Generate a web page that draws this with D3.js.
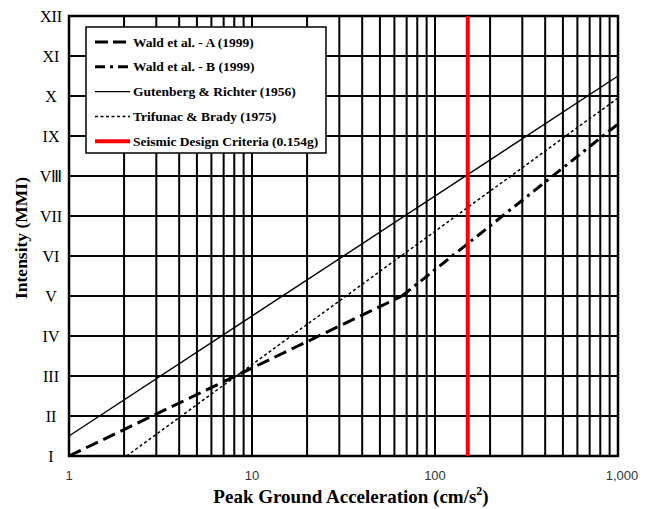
<!DOCTYPE html>
<html lang="en">
<head>
<meta charset="UTF-8">
<title>Intensity vs PGA</title>
<script src="https://cdn.jsdelivr.net/npm/d3@7"></script>
<style>
  body { margin: 0; background: #fff; }
  svg { display: block; }
</style>
</head>
<body>
<script>
// Data
const mmiLabels = ["I", "II", "III", "IV", "V", "VI", "VII", "V\u2162", "IX", "X", "XI", "XII"];
const xTicks = [1, 10, 100, 1000];

const waldAPga = [1, 66];
const waldAMmi = [1.0, 5.0];
const waldBPga = [66, 1000];
const waldBMmi = [5.0, 9.3];
const gutenbergPga = [1, 1000];
const gutenbergMmi = [1.5, 10.5];
const trifunacPga = [2.06, 1000];
const trifunacMmi = [1.0, 9.95];
const designPga = 151;

const legendNames = [
  "Wald et al. - A (1999)",
  "Wald et al. - B (1999)",
  "Gutenberg & Richter (1956)",
  "Trifunac & Brady (1975)",
  "Seismic Design Criteria (0.154g)"
];

// Canvas
const w = 652, h = 509;
const plotL = 69, plotR = 618, plotT = 16, plotB = 456;
const serif = "'Liberation Serif', 'Times New Roman', serif";

const svg = d3.select("body").append("svg")
  .attr("width", w)
  .attr("height", h);

const xScale = d3.scaleLog().domain([1, 1000]).range([plotL, plotR]);
const yScale = d3.scaleLinear().domain([1, 12]).range([plotB, plotT]);

// Grid: vertical lines at 1..9 of each decade
const minor = [];
for (let e = 0; e < 3; e++) {
  for (let m = 1; m <= 9; m++) minor.push(m * Math.pow(10, e));
}
minor.push(1000);

svg.append("g").selectAll("line")
  .data(minor)
  .enter().append("line")
  .attr("x1", d => xScale(d)).attr("x2", d => xScale(d))
  .attr("y1", plotT).attr("y2", plotB)
  .attr("stroke", "#000").attr("stroke-width", 2);

svg.append("g").selectAll("line")
  .data(d3.range(1, 13))
  .enter().append("line")
  .attr("x1", plotL).attr("x2", plotR)
  .attr("y1", d => yScale(d)).attr("y2", d => yScale(d))
  .attr("stroke", "#000").attr("stroke-width", 2);

// Frame
svg.append("rect")
  .attr("x", plotL).attr("y", plotT)
  .attr("width", plotR - plotL).attr("height", plotB - plotT)
  .attr("fill", "none").attr("stroke", "#000").attr("stroke-width", 2.5);

// Series
const line = d3.line().x(d => xScale(d[0])).y(d => yScale(d[1]));
const zip = (a, b) => a.map((v, i) => [v, b[i]]);

const series = [
  { pts: zip(waldAPga, waldAMmi), width: 3, dash: "13,6" },
  { pts: zip(waldBPga, waldBMmi), width: 3, dash: "11,5,3,5" },
  { pts: zip(gutenbergPga, gutenbergMmi), width: 1.4, dash: null },
  { pts: zip(trifunacPga, trifunacMmi), width: 1.5, dash: "3,2.5" }
];

series.forEach(s => {
  svg.append("path")
    .attr("d", line(s.pts))
    .attr("fill", "none")
    .attr("stroke", "#000")
    .attr("stroke-width", s.width)
    .attr("stroke-dasharray", s.dash);
});

// Design criteria line
svg.append("line")
  .attr("x1", xScale(designPga)).attr("x2", xScale(designPga))
  .attr("y1", plotT).attr("y2", plotB)
  .attr("stroke", "#ff0000").attr("stroke-width", 4);

// Y tick labels
svg.append("g").selectAll("text")
  .data(mmiLabels)
  .enter().append("text")
  .attr("x", 51)
  .attr("y", (d, i) => yScale(i + 1) + 5.5)
  .attr("text-anchor", "middle")
  .attr("font-family", serif)
  .attr("font-size", 16)
  .text(d => d);

// X tick labels
svg.append("g").selectAll("text")
  .data(xTicks)
  .enter().append("text")
  .attr("x", d => xScale(d) + (d === 1000 ? 4 : 0))
  .attr("y", 480)
  .attr("text-anchor", "middle")
  .attr("font-family", "'Liberation Sans', Arial, sans-serif")
  .attr("font-size", 13)
  .attr("fill", "#333")
  .text(d => d3.format(",")(d));

// Axis titles
const xTitle = svg.append("text")
  .attr("x", 351).attr("y", 503)
  .attr("text-anchor", "middle")
  .attr("font-family", serif)
  .attr("font-size", 19).attr("font-weight", "bold");
xTitle.append("tspan").text("Peak Ground Acceleration (cm/s");
xTitle.append("tspan").attr("dy", -8).attr("font-size", 12).text("2");
xTitle.append("tspan").attr("dy", 8).text(")");

svg.append("text")
  .attr("transform", "translate(27, 238) rotate(-90)")
  .attr("text-anchor", "middle")
  .attr("font-family", serif)
  .attr("font-size", 17.5).attr("font-weight", "bold")
  .text("Intensity (MMI)");

// Legend
const legend = svg.append("g");
legend.append("rect")
  .attr("x", 86).attr("y", 27)
  .attr("width", 240).attr("height", 126)
  .attr("fill", "#fff").attr("stroke", "#000").attr("stroke-width", 1.5);

const legendStyles = [
  { color: "#000", width: 3, dash: "13,5" },
  { color: "#000", width: 3, dash: "10,5,3,5" },
  { color: "#000", width: 1.4, dash: null },
  { color: "#000", width: 1.5, dash: "3,2.5" },
  { color: "#ff0000", width: 4, dash: null }
];

legendNames.forEach((name, i) => {
  const y = 42 + i * 24.8;
  legend.append("line")
    .attr("x1", 95).attr("x2", 130)
    .attr("y1", y).attr("y2", y)
    .attr("stroke", legendStyles[i].color)
    .attr("stroke-width", legendStyles[i].width)
    .attr("stroke-dasharray", legendStyles[i].dash);
  legend.append("text")
    .attr("x", 133).attr("y", y + 4.5)
    .attr("font-family", serif)
    .attr("font-size", 13.5).attr("font-weight", "bold")
    .text(name);
});
</script>
</body>
</html>
